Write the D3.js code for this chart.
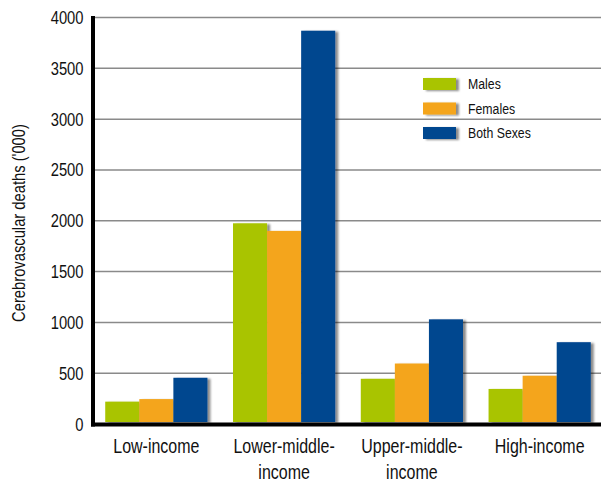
<!DOCTYPE html>
<html>
<head>
<meta charset="utf-8">
<script src="https://cdn.jsdelivr.net/npm/d3@7/dist/d3.min.js"></script>
<style>
  html, body { margin: 0; padding: 0; background: #fff; }
  svg { display: block; }
  text { font-family: "Liberation Sans", Arial, sans-serif; fill: #111; }
</style>
</head>
<body>
<div id="chart"></div>
<script>
const categories = ["Low-income", "Lower-middle-income", "Upper-middle-income", "High-income"];
const categoryLabels = [["Low-income"], ["Lower-middle-", "income"], ["Upper-middle-", "income"], ["High-income"]];
const seriesNames = ["Males", "Females", "Both Sexes"];
const males = [220, 1975, 445, 345];
const females = [245, 1900, 595, 475];
const bothSexes = [455, 3870, 1030, 805];
const yTicks = [0, 500, 1000, 1500, 2000, 2500, 3000, 3500, 4000];
const colors = ["#A9C400", "#F4A51B", "#02468F"];
const yTitle = "Cerebrovascular deaths ('000)";

const seriesValues = [males, females, bothSexes];
const W = 601, H = 485;
const NARROW = 0.82;

const svg = d3.select("#chart").append("svg").attr("width", W).attr("height", H);

function narrowText(parent, x, y, str, size, anchor, rotate) {
  const g = parent.append("g").attr("transform", `translate(${x},${y})` + (rotate ? ` rotate(${rotate})` : ""));
  return g.append("text")
    .attr("transform", `scale(${NARROW},1)`)
    .attr("text-anchor", anchor || "start")
    .style("font-size", size + "px")
    .text(str);
}

const defs = svg.append("defs");
const f = defs.append("filter").attr("id", "shadow").attr("x", "-20%").attr("y", "-20%").attr("width", "150%").attr("height", "150%");
f.append("feDropShadow").attr("dx", 3).attr("dy", 1).attr("stdDeviation", 1.3)
  .attr("flood-color", "#000").attr("flood-opacity", 0.45);

const y = d3.scaleLinear().domain([0, 4000]).range([424, 17.5]);
const x0 = d3.scaleBand().domain(categories).range([95, 601]).paddingInner(0.2).paddingOuter(0.08);
const x1 = d3.scaleBand().domain(seriesNames).range([0, x0.bandwidth()]);

// gridlines
svg.append("g").selectAll("line").data(yTicks.filter(d => d > 0)).join("line")
  .attr("x1", 95).attr("x2", W)
  .attr("y1", d => y(d)).attr("y2", d => y(d))
  .attr("stroke", "#8a8a8a").attr("stroke-width", 1.5);

// y tick labels
const gy = svg.append("g");
yTicks.forEach(t => narrowText(gy, 83.5, y(t) + 6.5, d3.format("d")(t), 18, "end"));

// bars
const groups = svg.append("g").selectAll("g").data(categories).join("g")
  .attr("transform", d => `translate(${x0(d)},0)`);
groups.selectAll("rect").data((c, i) => seriesNames.map((s, j) => ({ s, j, v: seriesValues[j][i] })))
  .join("rect")
  .attr("x", d => x1(d.s)).attr("width", x1.bandwidth())
  .attr("y", d => y(d.v)).attr("height", d => y(0) - y(d.v) - 2)
  .attr("fill", d => colors[d.j])
  .attr("filter", "url(#shadow)");

// axes lines
svg.append("line").attr("x1", 93).attr("x2", 93).attr("y1", 16).attr("y2", 426.5)
  .attr("stroke", "#000").attr("stroke-width", 4);
svg.append("line").attr("x1", 91).attr("x2", W).attr("y1", 424.5).attr("y2", 424.5)
  .attr("stroke", "#000").attr("stroke-width", 4);

// x labels
const gx = svg.append("g");
categories.forEach((c, i) => {
  categoryLabels[i].forEach((line, k) => {
    narrowText(gx, x0(c) + x0.bandwidth() / 2, 453 + k * 26, line, 19.5, "middle");
  });
});

// y title
narrowText(svg, 25, 223, yTitle, 18, "middle", -90);

// legend
const lg = svg.append("g");
seriesNames.forEach((s, i) => {
  const yy = 78 + i * 24.5;
  lg.append("rect").attr("x", 423).attr("y", yy).attr("width", 33).attr("height", 12)
    .attr("fill", colors[i]).attr("filter", "url(#shadow)");
  narrowText(lg, 468, yy + 11, s, 15, "start");
});
</script>
</body>
</html>
